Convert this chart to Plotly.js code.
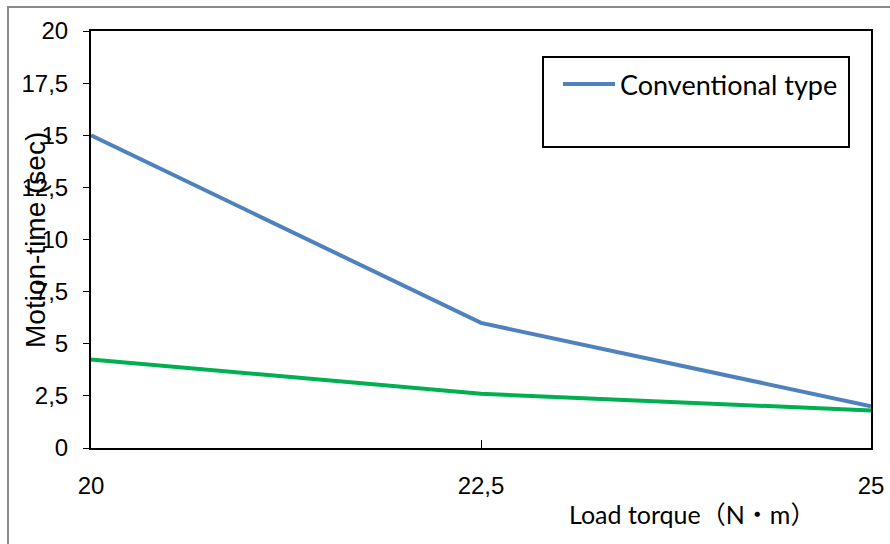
<!DOCTYPE html>
<html>
<head>
<meta charset="utf-8">
<script src="https://cdn.plot.ly/plotly-3.0.1.min.js"></script>
<style>
html,body{margin:0;padding:0;background:#fff;}
#wrap{position:relative;width:890px;height:544px;}
#chart{position:absolute;left:0;top:0;width:890px;height:544px;}
#frame{position:absolute;left:7px;top:6px;width:900px;height:560px;border-left:2px solid #8a8a8a;border-top:2px solid #8a8a8a;pointer-events:none;}
</style>
</head>
<body>
<div id="wrap"><div id="chart"></div><div id="frame"></div></div>
<script>
const loadTorque = [20, 22.5, 25];
const conventionalTime = [15, 6, 2];
const newTypeTime = [4.25, 2.6, 1.8];
const xTicks = [20, 22.5, 25];
const yTicks = [0, 2.5, 5, 7.5, 10, 12.5, 15, 17.5, 20];

const tickFont = {family: 'Liberation Sans, Arial, sans-serif', size: 24, color: '#000'};

const traces = [
  {x: loadTorque, y: conventionalTime, mode: 'lines', name: 'Conventional type',
   line: {color: '#4F81BD', width: 4}, showlegend: true},
  {x: loadTorque, y: newTypeTime, mode: 'lines', name: 'New type',
   line: {color: '#00B050', width: 4}, showlegend: false}
];

const layout = {
  width: 890, height: 544,
  margin: {l: 91, r: 19, t: 31, b: 96},
  paper_bgcolor: '#fff', plot_bgcolor: '#fff',
  separators: ',.',
  showlegend: true,
  xaxis: {
    range: [20, 25], tickvals: xTicks, ticks: 'inside', ticklen: 8, tickwidth: 1, tickcolor: '#000',
    showline: true, linecolor: '#000', linewidth: 2, mirror: true, showgrid: false, zeroline: false,
    tickfont: tickFont, ticklabelstandoff: 15
  },
  yaxis: {
    range: [0, 20], tickvals: yTicks, ticks: 'outside', ticklen: 6, tickwidth: 1, tickcolor: '#000',
    showline: true, linecolor: '#000', linewidth: 2, mirror: true, showgrid: false, zeroline: false,
    tickfont: tickFont, ticklabelstandoff: 10
  },
  legend: {
    x: (558 - 91) / 780, y: (448 - 60) / 417, xanchor: 'left', yanchor: 'top',
    bgcolor: 'rgba(0,0,0,0)', borderwidth: 0,
    font: {family: 'Lato, Open Sans, sans-serif', size: 27, color: '#000'},
    itemwidth: 52
  },
  shapes: [
    {type: 'rect', xref: 'paper', yref: 'paper',
     x0: (543 - 91) / 780, x1: (849 - 91) / 780, y0: (448 - 147) / 417, y1: (448 - 57) / 417,
     line: {color: '#000', width: 2}, fillcolor: 'rgba(0,0,0,0)'}
  ],
  annotations: [
    {text: 'Motion-time (sec)', xref: 'paper', yref: 'paper',
     x: (35 - 91) / 780, y: (448 - 240) / 417, xanchor: 'center', yanchor: 'middle',
     textangle: -90, showarrow: false,
     font: {family: 'Liberation Sans, Arial, sans-serif', size: 28, color: '#000'}},
    {text: 'Load torque（N・m）', xref: 'paper', yref: 'paper',
     x: (692 - 91) / 780, y: (448 - 514) / 417, xanchor: 'center', yanchor: 'middle',
     showarrow: false,
     font: {family: 'Lato, "Noto Sans CJK JP", sans-serif', size: 25, color: '#000'}}
  ]
};

Plotly.newPlot('chart', traces, layout, {displayModeBar: false, staticPlot: true});
</script>
</body>
</html>
